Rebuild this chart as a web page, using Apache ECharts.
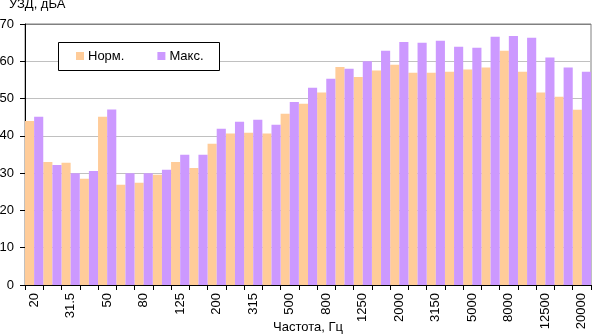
<!DOCTYPE html>
<html>
<head>
<meta charset="utf-8">
<script src="https://cdn.jsdelivr.net/npm/echarts@6/dist/echarts.min.js"></script>
<style>
  html, body { margin: 0; padding: 0; background: #fff; }
  #chart { width: 592px; height: 336px; }
</style>
</head>
<body>
<div id="chart"></div>
<script>
// Third-octave band centre frequencies, Hz
const frequencies = ['20', '25', '31.5', '40', '50', '63', '80', '100', '125', '160',
  '200', '250', '315', '400', '500', '630', '800', '1000', '1250', '1600',
  '2000', '2500', '3150', '4000', '5000', '6300', '8000', '10000', '12500', '16000', '20000'];

// Sound pressure level, dBA
const normLevels = [44.0, 33.0, 32.8, 28.5, 45.1, 26.9, 27.4, 29.6, 33.0, 31.4,
  37.9, 40.6, 40.8, 40.6, 45.9, 48.6, 51.6, 58.5, 55.8, 57.5,
  59.1, 56.9, 56.9, 57.2, 57.8, 58.3, 62.8, 57.2, 51.6, 50.5, 47.0];
const maxLevels = [45.1, 32.2, 30.0, 30.6, 47.1, 30.0, 30.0, 30.9, 34.9, 34.9,
  41.9, 43.8, 44.3, 43.0, 49.1, 52.9, 55.3, 58.0, 60.0, 62.8,
  65.2, 65.0, 65.5, 63.9, 63.6, 66.6, 66.8, 66.3, 61.0, 58.3, 57.2];

const seriesNames = ['Норм.', 'Макс.'];
const yTitle = 'УЗД, дБА';
const xTitle = 'Частота, Гц';

const font = 'Liberation Sans, Arial, sans-serif';
const chart = echarts.init(document.getElementById('chart'), null, { renderer: 'canvas' });

chart.setOption({
  animation: false,
  color: ['#FFCC99', '#CC99FF'],
  grid: {
    left: 25, right: 1, top: 24, bottom: 51,
    outerBoundsMode: 'none', containLabel: false,
    show: true, borderColor: '#808080', borderWidth: 1, backgroundColor: 'transparent'
  },
  graphic: [
    {
      type: 'text', left: 9, top: -2,
      style: { text: yTitle, font: '13px ' + font, fill: '#000' }
    },
    {
      type: 'rect', shape: { x: 58.5, y: 42.5, width: 161, height: 28 },
      style: { fill: '#fff', stroke: '#000', lineWidth: 1 }, z: 10
    }
  ],
  legend: {
    left: 76, top: 49.5, padding: 0,
    itemWidth: 8, itemHeight: 8, itemGap: 33,
    icon: 'rect', z: 20,
    textStyle: { fontFamily: font, fontSize: 13, color: '#000', padding: [0, 0, 0, -1] },
    data: seriesNames
  },
  xAxis: {
    type: 'category',
    data: frequencies,
    name: xTitle,
    nameLocation: 'middle',
    nameGap: 36,
    nameMoveOverlap: false,
    nameTextStyle: { fontFamily: font, fontSize: 13, color: '#000' },
    axisLine: { lineStyle: { color: '#000', width: 1 } },
    axisTick: { show: true, interval: 0, length: 5, lineStyle: { color: '#000' } },
    axisLabel: {
      interval: 1, rotate: 90, margin: 8,
      fontFamily: font, fontSize: 13, color: '#000'
    },
    splitLine: { show: false }
  },
  yAxis: {
    type: 'value', min: 0, max: 70, interval: 10,
    axisLine: { show: true, lineStyle: { color: '#000', width: 1 } },
    axisTick: { show: true, length: 5, lineStyle: { color: '#000' } },
    axisLabel: { margin: 11, fontFamily: font, fontSize: 13, color: '#000' },
    splitLine: {
      show: true,
      lineStyle: { color: ['#c0c0c0', '#c0c0c0', '#c0c0c0', '#c0c0c0', '#c0c0c0', '#c0c0c0', '#c0c0c0', '#808080'], width: 1 }
    }
  },
  series: [
    { name: seriesNames[0], type: 'bar', data: normLevels, barGap: '0%', barCategoryGap: '0%' },
    { name: seriesNames[1], type: 'bar', data: maxLevels, barGap: '0%', barCategoryGap: '0%' }
  ]
});
</script>
</body>
</html>
